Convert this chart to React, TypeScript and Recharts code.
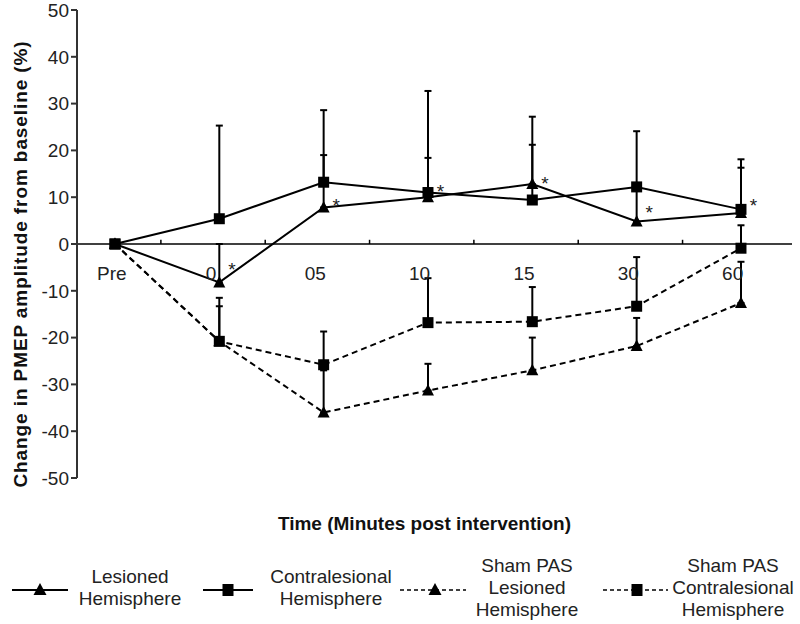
import React from "react";
import {
  LineChart,
  Line,
  XAxis,
  YAxis,
  ErrorBar,
  ReferenceLine,
  ReferenceDot,
  Legend,
} from "recharts";

const categories = ["Pre", "0", "05", "10", "15", "30", "60"];
const lesioned = [0, -8.2, 7.8, 10, 12.8, 4.8, 6.6];
const lesionedErr = [0, 8.2, 11.2, 8.4, 8.4, 7, 9.7];
const contralesional = [0, 5.4, 13.2, 11, 9.4, 12.2, 7.4];
const contralesionalErr = [0, 19.9, 15.4, 21.7, 17.8, 11.9, 10.7];
const shamLesioned = [0, -20.8, -36, -31.3, -27, -21.8, -12.6];
const shamLesionedErr = [0, 7.5, 9, 5.7, 7, 6, 8.8];
const shamContralesional = [0, -20.8, -25.8, -16.8, -16.6, -13.3, -0.9];
const shamContralesionalErr = [0, 9.3, 7.1, 9.5, 7.4, 10.5, 4.9];
// where the significance stars sit
const starLevels = [null, -4.5, 9.2, 12.2, 13.9, 7.7, 9.2];
const yTicks = [-50, -40, -30, -20, -10, 0, 10, 20, 30, 40, 50];

const data = categories.map((name, i) => ({
  idx: i,
  name,
  les: lesioned[i],
  lesErr: [0, lesionedErr[i]],
  con: contralesional[i],
  conErr: [0, contralesionalErr[i]],
  shamLes: shamLesioned[i],
  shamLesErr: [0, shamLesionedErr[i]],
  shamCon: shamContralesional[i],
  shamConErr: [0, shamContralesionalErr[i]],
}));

const font = "'Liberation Sans', Arial, sans-serif";
const fs = 19;

const triangle = (props: any) => {
  const { cx, cy, index, dataKey } = props;
  if (cx == null || cy == null) return <g key={`t-${dataKey}-${index}`} />;
  return (
    <path
      key={`t-${dataKey}-${index}`}
      d={`M${cx},${cy - 6.5}L${cx + 6},${cy + 5}L${cx - 6},${cy + 5}Z`}
      fill="#000"
    />
  );
};

const square = (props: any) => {
  const { cx, cy, index, dataKey } = props;
  if (cx == null || cy == null) return <g key={`s-${dataKey}-${index}`} />;
  return (
    <rect
      key={`s-${dataKey}-${index}`}
      x={cx - 5.5}
      y={cy - 5.5}
      width={11}
      height={11}
      fill="#000"
    />
  );
};

const legendItems = [
  { lines: ["Lesioned", "Hemisphere"], dashed: false, tri: true, x1: 12, x2: 68, mx: 40, tx: 130 },
  { lines: ["Contralesional", "Hemisphere"], dashed: false, tri: false, x1: 203, x2: 253, mx: 228, tx: 331 },
  { lines: ["Sham PAS", "Lesioned", "Hemisphere"], dashed: true, tri: true, x1: 400, x2: 466, mx: 435, tx: 527 },
  { lines: ["Sham PAS", "Contralesional", "Hemisphere"], dashed: true, tri: false, x1: 603, x2: 668, mx: 637, tx: 733 },
];

const renderLegend = () => {
  const ly = 54;
  const textMid = 51;
  return (
    <svg width={800} height={88} style={{ display: "block" }}>
      {legendItems.map((it, k) => {
        const start = textMid - ((it.lines.length - 1) * 22) / 2;
        return (
          <g key={k}>
            <line
              x1={it.x1}
              x2={it.x2}
              y1={ly}
              y2={ly}
              stroke="#000"
              strokeWidth={it.dashed ? 1.5 : 2}
              strokeDasharray={it.dashed ? "4 3" : undefined}
            />
            {it.tri ? (
              <path d={`M${it.mx},${ly - 7}L${it.mx + 6.5},${ly + 5}L${it.mx - 6.5},${ly + 5}Z`} fill="#000" />
            ) : (
              <rect x={it.mx - 5.5} y={ly - 6} width={11} height={12} fill="#000" />
            )}
            {it.lines.map((t, j) => (
              <text
                key={j}
                x={it.tx}
                y={start + j * 22}
                textAnchor="middle"
                dominantBaseline="central"
                fontSize={fs}
                fill="#222"
                fontFamily={font}
              >
                {t}
              </text>
            ))}
          </g>
        );
      })}
    </svg>
  );
};

const yTitle = (p: any) => {
  const vb = p.viewBox;
  const cx = vb.x + 20;
  const cy = vb.y + vb.height / 2 + 20;
  return (
    <text
      x={cx}
      y={cy}
      transform={`rotate(-90 ${cx} ${cy})`}
      textAnchor="middle"
      dominantBaseline="central"
      fontSize={fs}
      fontWeight="bold"
      letterSpacing={0.9}
      fill="#111"
    >
      Change in PMEP amplitude from baseline (%)
    </text>
  );
};

export default function App() {
  return (
    <div style={{ position: "absolute", left: 0, top: 0, fontFamily: font, background: "#fff" }}>
      <LineChart
        width={800}
        height={624}
        data={data}
        margin={{ top: 10, right: 8, left: 0, bottom: 0 }}
      >
        <XAxis
          type="number"
          dataKey="idx"
          domain={[-0.364, 6.489]}
          allowDataOverflow
          axisLine={false}
          tickLine={false}
          tick={false}
          height={58}
          label={{
            value: "Time (Minutes post intervention)",
            position: "insideBottom",
            offset: 6,
            dx: -10,
            style: { fontWeight: "bold", fontSize: fs, fill: "#111" },
          }}
        />
        <YAxis
          type="number"
          domain={[-50, 50]}
          ticks={yTicks}
          interval={0}
          width={77}
          tickSize={6}
          tick={{ fontSize: fs, fill: "#222" }}
          axisLine={{ stroke: "#333", strokeWidth: 2 }}
          tickLine={{ stroke: "#333", strokeWidth: 2 }}
          label={{ content: yTitle }}
        />
        <ReferenceLine y={0} stroke="#000" strokeWidth={1.5} />
        {categories.slice(1).map((_, i) => (
          <ReferenceLine
            key={`tk-${i}`}
            segment={[
              { x: i + 0.44, y: 0 },
              { x: i + 0.44, y: 0.9 },
            ]}
            stroke="#000"
            strokeWidth={1.5}
          />
        ))}
        {categories.map((name, i) => (
          <ReferenceDot
            key={`lb-${i}`}
            x={i === 0 ? -0.03 : i - 0.08}
            y={-6.2}
            r={0}
            fill="none"
            stroke="none"
            label={{ value: name, position: "center", fontSize: fs, fill: "#222" }}
          />
        ))}
        {starLevels.map((v, i) =>
          v == null ? null : (
            <ReferenceDot
              key={`st-${i}`}
              x={i + 0.12}
              y={v}
              r={0}
              fill="none"
              stroke="none"
              label={{ value: "*", position: "center", fontSize: fs, fill: "#222", dy: 4 }}
            />
          )
        )}
        <Line
          dataKey="les"
          type="linear"
          stroke="#000"
          strokeWidth={2}
          dot={triangle}
          activeDot={false}
          isAnimationActive={false}
        >
          <ErrorBar dataKey="lesErr" direction="y" width={3.5} stroke="#000" strokeWidth={2} />
        </Line>
        <Line
          dataKey="con"
          type="linear"
          stroke="#000"
          strokeWidth={2}
          dot={square}
          activeDot={false}
          isAnimationActive={false}
        >
          <ErrorBar dataKey="conErr" direction="y" width={3.5} stroke="#000" strokeWidth={2} />
        </Line>
        <Line
          dataKey="shamLes"
          type="linear"
          stroke="#000"
          strokeWidth={2}
          strokeDasharray="6 4"
          dot={triangle}
          activeDot={false}
          isAnimationActive={false}
        >
          <ErrorBar dataKey="shamLesErr" direction="y" width={3.5} stroke="#000" strokeWidth={2} />
        </Line>
        <Line
          dataKey="shamCon"
          type="linear"
          stroke="#000"
          strokeWidth={2}
          strokeDasharray="6 4"
          dot={square}
          activeDot={false}
          isAnimationActive={false}
        >
          <ErrorBar dataKey="shamConErr" direction="y" width={3.5} stroke="#000" strokeWidth={2} />
        </Line>
        <Legend
          verticalAlign="bottom"
          content={renderLegend}
          wrapperStyle={{ left: 0, width: 800, height: 88 }}
        />
      </LineChart>
    </div>
  );
}
